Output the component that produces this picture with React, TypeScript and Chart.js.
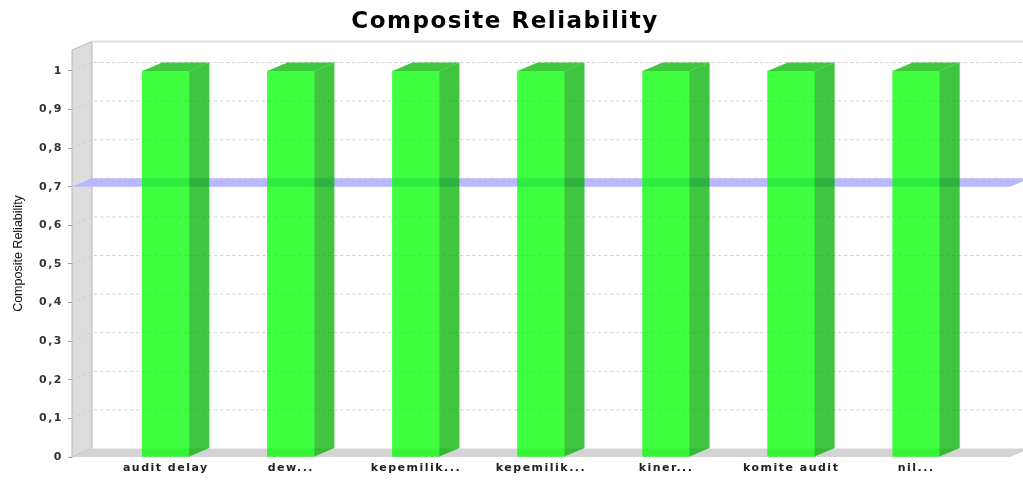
import React, { useEffect, useRef } from "react";
import { Chart, registerables } from "chart.js";

Chart.register(...registerables);

const categories = [
  "audit delay",
  "dew...",
  "kepemilik...",
  "kepemilik...",
  "kiner...",
  "komite audit",
  "nil...",
];
const reliability = [1, 1, 1, 1, 1, 1, 1];
const yTickValues = [0, 0.1, 0.2, 0.3, 0.4, 0.5, 0.6, 0.7, 0.8, 0.9, 1];
const yTickLabels = ["0", "0,1", "0,2", "0,3", "0,4", "0,5", "0,6", "0,7", "0,8", "0,9", "1"];
const threshold = 0.7;

const DX = 20;
const DY = 8.5;

const poly = (ctx: CanvasRenderingContext2D, pts: number[][], fill?: string, stroke?: string) => {
  ctx.beginPath();
  ctx.moveTo(pts[0][0], pts[0][1]);
  for (let i = 1; i < pts.length; i++) ctx.lineTo(pts[i][0], pts[i][1]);
  ctx.closePath();
  if (fill) {
    ctx.fillStyle = fill;
    ctx.fill();
  }
  if (stroke) {
    ctx.strokeStyle = stroke;
    ctx.lineWidth = 1;
    ctx.stroke();
  }
};

const spacingPlugin = {
  id: "spacing",
  beforeDraw(chart: any) {
    (chart.ctx as any).letterSpacing = "1.5px";
  },
  afterDraw(chart: any) {
    (chart.ctx as any).letterSpacing = "0px";
  },
};

const plot3d = {
  id: "plot3d",
  beforeDatasetsDraw(chart: any) {
    const ctx = chart.ctx as CanvasRenderingContext2D;
    const { left, right, top, bottom } = chart.chartArea;
    const y = chart.scales.y;
    ctx.save();
    (ctx as any).letterSpacing = "0px";
    // wall
    poly(ctx, [[left, top], [left + DX, top - DY], [left + DX, bottom - DY], [left, bottom]], "#dcdcdc", "#b8b8b8");
    // floor
    poly(ctx, [[left, bottom], [left + DX, bottom - DY], [right + DX, bottom - DY], [right, bottom]], "#d4d4d4");
    // back top edge
    ctx.strokeStyle = "#e4e4e4";
    ctx.lineWidth = 2.5;
    ctx.beginPath();
    ctx.moveTo(left + DX, top - DY);
    ctx.lineTo(right + DX, top - DY);
    ctx.stroke();
    // gridlines
    ctx.strokeStyle = "#cdcdcd";
    ctx.lineWidth = 1;
    ctx.setLineDash([3, 3]);
    yTickValues.forEach((v) => {
      if (v === 0) return;
      const py = y.getPixelForValue(v);
      ctx.beginPath();
      ctx.moveTo(left, py);
      ctx.lineTo(left + DX, py - DY);
      ctx.lineTo(right + DX, py - DY);
      ctx.stroke();
    });
    ctx.setLineDash([]);
    // threshold band
    const ty = y.getPixelForValue(threshold);
    poly(ctx, [[left, ty], [left + DX, ty - DY], [right + DX, ty - DY], [right, ty]], "rgb(184,184,255)");
    ctx.restore();
  },
  afterDatasetsDraw(chart: any) {
    const ctx = chart.ctx as CanvasRenderingContext2D;
    const meta = chart.getDatasetMeta(0);
    ctx.save();
    meta.data.forEach((el: any) => {
      const { x, y, base, width } = el.getProps(["x", "y", "base", "width"], true);
      const l = x - width / 2;
      const r = x + width / 2;
      // side
      poly(ctx, [[r, y], [r + DX, y - DY], [r + DX, base - DY], [r, base]], "rgba(0,178,0,0.75)");
      // top
      poly(ctx, [[l, y], [l + DX, y - DY], [r + DX, y - DY], [r, y]], "rgba(0,182,0,0.75)");
    });
    ctx.restore();
  },
};

export default function App() {
  const ref = useRef<HTMLCanvasElement | null>(null);
  useEffect(() => {
    if (!ref.current) return;
    const chart = new Chart(ref.current, {
      type: "bar",
      data: {
        datasets: [
          {
            label: "Composite Reliability",
            data: reliability.map((v, i) => ({ x: i, y: v })),
            backgroundColor: "rgba(0,255,0,0.75)",
            borderWidth: 0,
            barThickness: 47,
          },
        ],
      },
      options: {
        animation: false,
        responsive: false,
        devicePixelRatio: 1,
        layout: { padding: { left: 0, right: 13, top: 0, bottom: 0 } },
        plugins: {
          legend: { display: false },
          tooltip: { enabled: false },
          title: {
            display: true,
            text: "Composite Reliability",
            color: "#000",
            font: { family: "DejaVu Sans", size: 23, weight: "bold", lineHeight: 1.2 },
            padding: { top: 8, bottom: 14.4 },
          },
        },
        scales: {
          x: {
            type: "linear",
            offset: false,
            min: -0.75,
            max: 6.75,
            afterBuildTicks: (s: any) => {
              s.ticks = categories.map((_, i) => ({ value: i }));
            },
            afterFit: (s: any) => {
              s.height = 25;
            },
            ticks: {
              autoSkip: false,
              maxRotation: 0,
              includeBounds: false,
              padding: 5,
              color: "#222",
              font: { family: "DejaVu Sans", size: 11, weight: "bold" },
              callback: (_v: any, i: number) => categories[i],
            },
            grid: { display: false, drawTicks: false },
            border: { display: false },
          },
          y: {
            min: 0,
            max: 1.0544,
            afterBuildTicks: (s: any) => {
              s.ticks = yTickValues.map((v) => ({ value: v }));
            },
            afterFit: (s: any) => {
              s.width = 72;
              if (!s.__patched) {
                const orig = s.drawTitle;
                s.drawTitle = function (...args: any[]) {
                  const c = this.ctx;
                  c.save();
                  c.letterSpacing = "0px";
                  orig.apply(this, args);
                  c.restore();
                };
                s.__patched = true;
              }
            },
            ticks: {
              includeBounds: false,
              padding: 5,
              color: "#333",
              font: { family: "DejaVu Sans", size: 11, weight: "bold" },
              callback: (_v: any, i: number) => yTickLabels[i],
            },
            grid: { drawOnChartArea: false, tickLength: 4, color: "#999" },
            border: { display: false },
            title: {
              display: true,
              text: "Composite Reliability",
              color: "#111",
              font: { family: "Liberation Sans", size: 12.5 },
              padding: { top: 11, bottom: 0 },
            },
          },
        },
      } as any,
      plugins: [spacingPlugin, plot3d],
    });
    return () => chart.destroy();
  }, []);
  return (
    <div style={{ position: "absolute", left: 0, top: 0, width: 1023, height: 482, background: "#fff" }}>
      <canvas ref={ref} width={1023} height={482} style={{ width: 1023, height: 482, display: "block" }} />
    </div>
  );
}
